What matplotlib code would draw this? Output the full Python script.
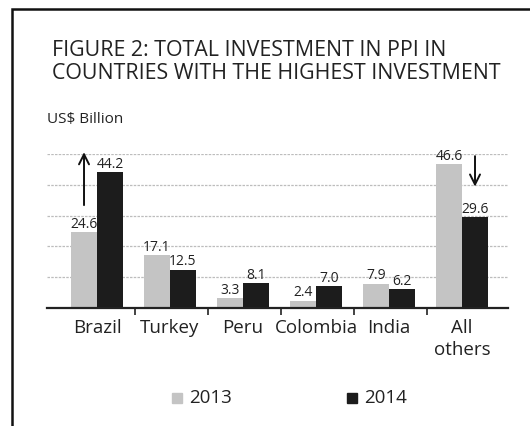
import matplotlib
matplotlib.use("Agg")
import matplotlib.pyplot as plt
from matplotlib.patches import Rectangle
import numpy as np

categories = ["Brazil", "Turkey", "Peru", "Colombia", "India", "All\nothers"]
v2013 = [24.6, 17.1, 3.3, 2.4, 7.9, 46.6]
v2014 = [44.2, 12.5, 8.1, 7.0, 6.2, 29.6]
series = ["2013", "2014"]
title = "FIGURE 2: TOTAL INVESTMENT IN PPI IN\nCOUNTRIES WITH THE HIGHEST INVESTMENT"
unit = "US$ Billion"

plt.rcParams['font.family'] = ['Open Sans', 'DejaVu Sans']

W, H = 530, 427
fig = plt.figure(figsize=(W/100, H/100), dpi=100)
fig.patch.set_facecolor('white')

# border
fig.add_artist(Rectangle((12/W, 1 - 427/H - 0.02), 1.0, (427 - 10)/H + 0.02,
                         transform=fig.transFigure, fill=False, edgecolor='#111111', lw=1.8))

# axes: x 47..508, y baseline 309, top (50) at 155
x0, x1 = 47, 508
yb, yt = 309, 155
ax = fig.add_axes([x0/W, 1 - yb/H, (x1 - x0)/W, (yb - yt)/H])
ax.set_ylim(0, 50)
ax.set_xlim(-0.685, 5.63)

x = np.arange(len(categories))
bw = 0.356
c13 = '#c4c4c4'
c14 = '#1c1c1c'
ax.bar(x - bw/2, v2013, bw, color=c13, edgecolor='none', zorder=2)
ax.bar(x + bw/2, v2014, bw, color=c14, edgecolor='none', zorder=2)

for i in range(len(categories)):
    ax.text(x[i] - bw/2, v2013[i] + 0.4, f"{v2013[i]:.1f}", ha='center', va='bottom',
            fontsize=10, color='#222222', zorder=3)
    ax.text(x[i] + bw/2, v2014[i] + 0.4, f"{v2014[i]:.1f}", ha='center', va='bottom',
            fontsize=10, color='#222222', zorder=3)

for yv in [10, 20, 30, 40, 50]:
    ax.axhline(yv, color='#bdbdbd', lw=0.9, ls=(0, (2, 1)), zorder=1)

for s in ['top', 'right', 'left']:
    ax.spines[s].set_visible(False)
ax.spines['bottom'].set_color('#222222')
ax.spines['bottom'].set_linewidth(1.6)
ax.set_yticks([])
ax.set_xticks(x[:-1] + 0.52)
ax.set_xticklabels([])
ax.tick_params(axis='x', length=5, width=1.2, color='#222222', direction='out')
for i, c in enumerate(categories):
    ax.text(x[i], -3.2, c, ha='center', va='top', fontsize=13.5, color='#222222',
            linespacing=1.3)

# arrows
ax.annotate('', xy=(x[0] - bw/2, 51.5), xytext=(x[0] - bw/2, 32.5),
            arrowprops=dict(arrowstyle='->', lw=1.4, color='#111111', mutation_scale=18),
            annotation_clip=False)
ax.annotate('', xy=(x[5] + bw/2, 38.5), xytext=(x[5] + bw/2, 50.2),
            arrowprops=dict(arrowstyle='->', lw=1.4, color='#111111', mutation_scale=18),
            annotation_clip=False)

fig.text(52/W, 1 - 40/H, title, ha='left', va='top', fontsize=15.4, color='#222222',
         linespacing=1.1)
fig.text(47/W, 1 - 119/H, unit, ha='left', va='center', fontsize=11, color='#222222')

# legend
for lx, lab, col in [(172, series[0], c13), (347, series[1], c14)]:
    fig.add_artist(Rectangle((lx/W, 1 - 404/H), 10/W, 10/H, transform=fig.transFigure,
                             color=col))
    fig.text((lx + 17)/W, 1 - 398/H, lab, ha='left', va='center', fontsize=13.5, color='#222222')

fig.savefig('out.png', dpi=100, facecolor='white')
